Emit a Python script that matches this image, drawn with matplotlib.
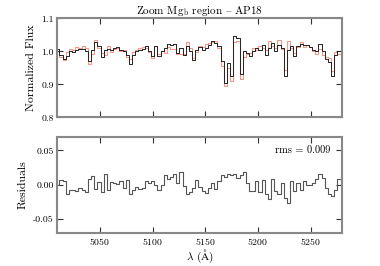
import matplotlib
matplotlib.use("Agg")
import matplotlib.pyplot as plt
import numpy as np
from matplotlib.ticker import FormatStrFormatter

# wavelength grid (Angstrom) and observed / residual spectra
wave_start, wave_step = 5010, 3
flux = [1.007, 0.990, 0.978, 0.985, 1.000, 0.997, 1.004, 1.006, 1.008, 1.000,
        0.972, 1.005, 1.028, 1.015, 0.983, 1.005, 1.008, 1.003, 1.010, 1.012,
        1.005, 1.000, 0.990, 0.962, 0.990, 1.000, 1.005, 1.008, 1.015, 1.000,
        0.985, 1.015, 0.985, 1.000, 1.010, 1.022, 1.020, 1.022, 0.995, 1.010,
        0.990, 1.015, 1.000, 0.975, 1.005, 1.012, 1.005, 1.010, 1.020, 1.030,
        1.025, 1.015, 0.970, 0.905, 0.965, 0.925, 1.045, 1.040, 0.930, 1.000,
        0.995, 0.985, 1.000, 1.010, 1.005, 1.018, 0.990, 1.010, 1.025, 1.000,
        1.020, 1.010, 0.925, 1.005, 1.015, 0.985, 1.015, 1.022, 1.018, 1.020,
        1.012, 1.005, 1.000, 1.022, 1.000, 0.978, 0.968, 0.925, 0.990, 1.000,
        1.007]
resid = [0.000, 0.007, 0.005, -0.013, -0.008, -0.007, -0.009, -0.005, -0.007, -0.011,
         0.009, 0.013, -0.006, 0.004, -0.011, 0.016, -0.008, 0.004, 0.002, 0.001,
         0.005, -0.004, 0.007, -0.014, -0.007, -0.003, -0.006, -0.005, 0.005, 0.002,
         0.005, 0.000, -0.007, 0.000, 0.014, 0.009, 0.012, 0.016, 0.002, 0.019,
         -0.002, -0.014, -0.010, -0.004, 0.007, -0.003, -0.009, -0.012, -0.005, 0.002,
         -0.006, 0.006, 0.014, 0.011, 0.016, 0.014, 0.016, 0.010, 0.014, 0.018,
         0.003, -0.009, -0.009, 0.005, -0.010, 0.007, -0.014, -0.020, 0.009, -0.009,
         -0.014, 0.003, -0.019, -0.026, 0.005, -0.009, 0.002, -0.007, 0.005, 0.000,
         0.000, 0.003, 0.008, 0.016, 0.010, -0.005, -0.013, -0.016, -0.007, 0.009,
         0.000]
rms_text = "rms = 0.009"

wave = wave_start + wave_step * np.arange(len(flux))
flux = np.array(flux)
resid = np.array(resid)
model = flux - resid

plt.rcParams['font.family'] = ['cmr10', 'DejaVu Serif']
plt.rcParams['mathtext.fontset'] = 'cm'
plt.rcParams['axes.formatter.use_mathtext'] = True

fig = plt.figure(figsize=(3.8, 2.66), dpi=100)
ax1 = fig.add_axes([0.151, 0.559, 0.748, 0.372])
ax2 = fig.add_axes([0.151, 0.124, 0.748, 0.362])

ax1.plot(wave, model, drawstyle='steps-mid', color='#f08878', lw=0.8, alpha=0.85)
ax1.plot(wave, flux, drawstyle='steps-mid', color='#222222', lw=0.7)
ax1.set_ylim(0.8, 1.1)
ax1.set_yticks([0.8, 0.9, 1.0, 1.1])
ax1.yaxis.set_major_formatter(FormatStrFormatter('%.1f'))
ax1.set_ylabel("Normalized Flux", fontsize=8.5)
# '{' maps to the en dash in the TeX-encoded cmr10 font
ax1.set_title(r"Zoom Mg$_\mathrm{b}$ region { AP18", fontsize=8, pad=3)
ax1.tick_params(labelbottom=False)

ax2.plot(wave, resid, drawstyle='steps-mid', color='#555555', lw=0.8)
ax2.set_ylim(-0.07, 0.07)
ax2.set_yticks([-0.05, 0.0, 0.05])
ax2.yaxis.set_major_formatter(FormatStrFormatter('%.2f'))
ax2.set_ylabel("Residuals", fontsize=8.5)
ax2.set_xlabel(r"$\lambda$ ($\mathrm{\AA}$)", fontsize=8, labelpad=0)
ax2.text(0.96, 0.86, rms_text, transform=ax2.transAxes, ha='right', va='center', fontsize=7.5)

for ax in (ax1, ax2):
    ax.set_xlim(5009.5, 5279.5)
    ax.set_xticks([5050, 5100, 5150, 5200, 5250])
    ax.tick_params(direction='in', top=True, right=True, length=4, width=0.8,
                   color='#333333', labelsize=7, pad=2.5)
    for sp in ax.spines.values():
        sp.set_color('#888888')
        sp.set_linewidth(1.5)

fig.savefig("out.png", dpi=100)
